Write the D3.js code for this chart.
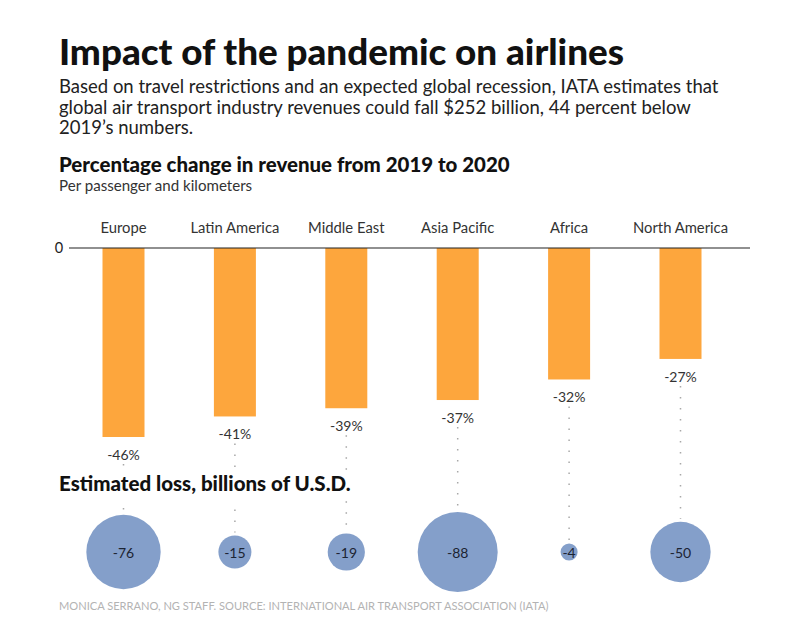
<!DOCTYPE html>
<html><head><meta charset="utf-8">
<script src="https://cdn.jsdelivr.net/npm/d3@7"></script>
<style>html,body{margin:0;background:#fff}svg{display:block}text{font-family:Lato,sans-serif}</style>
</head><body><svg id="c" width="786" height="641"></svg>
<script>
const regions=["Europe","Latin America","Middle East","Asia Pacific","Africa","North America"];
const revenueChange=[-46,-41,-39,-37,-32,-27];
const lossBillions=[-76,-15,-19,-88,-4,-50];
const subtitleLines=["Based on travel restrictions and an expected global recession, IATA estimates that","global air transport industry revenues could fall $252 billion, 44 percent below","2019’s numbers."];

const svg=d3.select("#c");
const x=d3.scalePoint().domain(regions).range([123.5,680.5]);
const y=d3.scaleLinear().domain([0,-46]).range([248,437]);
const r=d3.scaleSqrt().domain([0,88]).range([0,40]);
const cy=552, barW=42, ink="#1c1c1c";
const T=(s,xx,yy,size,weight,fill,anchor)=>svg.append("text").attr("x",xx).attr("y",yy)
  .attr("font-size",size).attr("font-weight",weight).attr("fill",fill||ink).attr("text-anchor",anchor||"start").text(s);

T("Impact of the pandemic on airlines",59,65,36.8,900,"#111");
const sub=svg.append("text").attr("font-size",18.5).attr("font-weight",400).attr("fill","#222");
subtitleLines.forEach((s,i)=>sub.append("tspan").attr("x",59).attr("y",93+i*20.5).text(s));
T("Percentage change in revenue from 2019 to 2020",59,172,20.45,900,"#111");
T("Per passenger and kilometers",59,191,15.1,400,"#333");

// dotted leaders
svg.append("g").selectAll("line").data(regions).join("line")
  .attr("x1",d=>x(d)).attr("x2",d=>x(d))
  .attr("y1",(d,i)=>y(revenueChange[i])+27)
  .attr("y2",(d,i)=>cy-r(-lossBillions[i])-3)
  .attr("stroke","#a8a8a8").attr("stroke-width",1.5).attr("stroke-dasharray","1.5 9.5");

// bars
svg.append("g").selectAll("rect").data(regions).join("rect")
  .attr("x",d=>x(d)-barW/2).attr("width",barW)
  .attr("y",y(0)).attr("height",(d,i)=>y(revenueChange[i])-y(0))
  .attr("fill","#fda63d");

// baseline and zero label
svg.append("line").attr("x1",69).attr("x2",750).attr("y1",y(0)).attr("y2",y(0)).attr("stroke","#222").attr("stroke-width",1.2);
T("0",59,253,14.5,400,"#222","middle");

// region labels
regions.forEach(d=>T(d,x(d),233,14.8,400,"#333","middle"));
// value labels
regions.forEach((d,i)=>T(revenueChange[i]+"%",x(d),y(revenueChange[i])+23,14,400,"#333","middle"));

// section heading with knocked-out background
svg.append("rect").attr("x",55).attr("y",471).attr("width",300).attr("height",29).attr("fill","#fff");
T("Estimated loss, billions of U.S.D.",59,491,20.5,900,"#111");

// bubbles
svg.append("g").selectAll("circle").data(regions).join("circle")
  .attr("cx",d=>x(d)).attr("cy",cy)
  .attr("r",(d,i)=>r(-lossBillions[i])).attr("fill","#849fca");
regions.forEach((d,i)=>T(String(lossBillions[i]),x(d),557.5,14,400,"#1c2433","middle"));

T("MONICA SERRANO, NG STAFF. SOURCE: INTERNATIONAL AIR TRANSPORT ASSOCIATION (IATA)",59,610,11.1,400,"#b3b3b3");
</script></body></html>
